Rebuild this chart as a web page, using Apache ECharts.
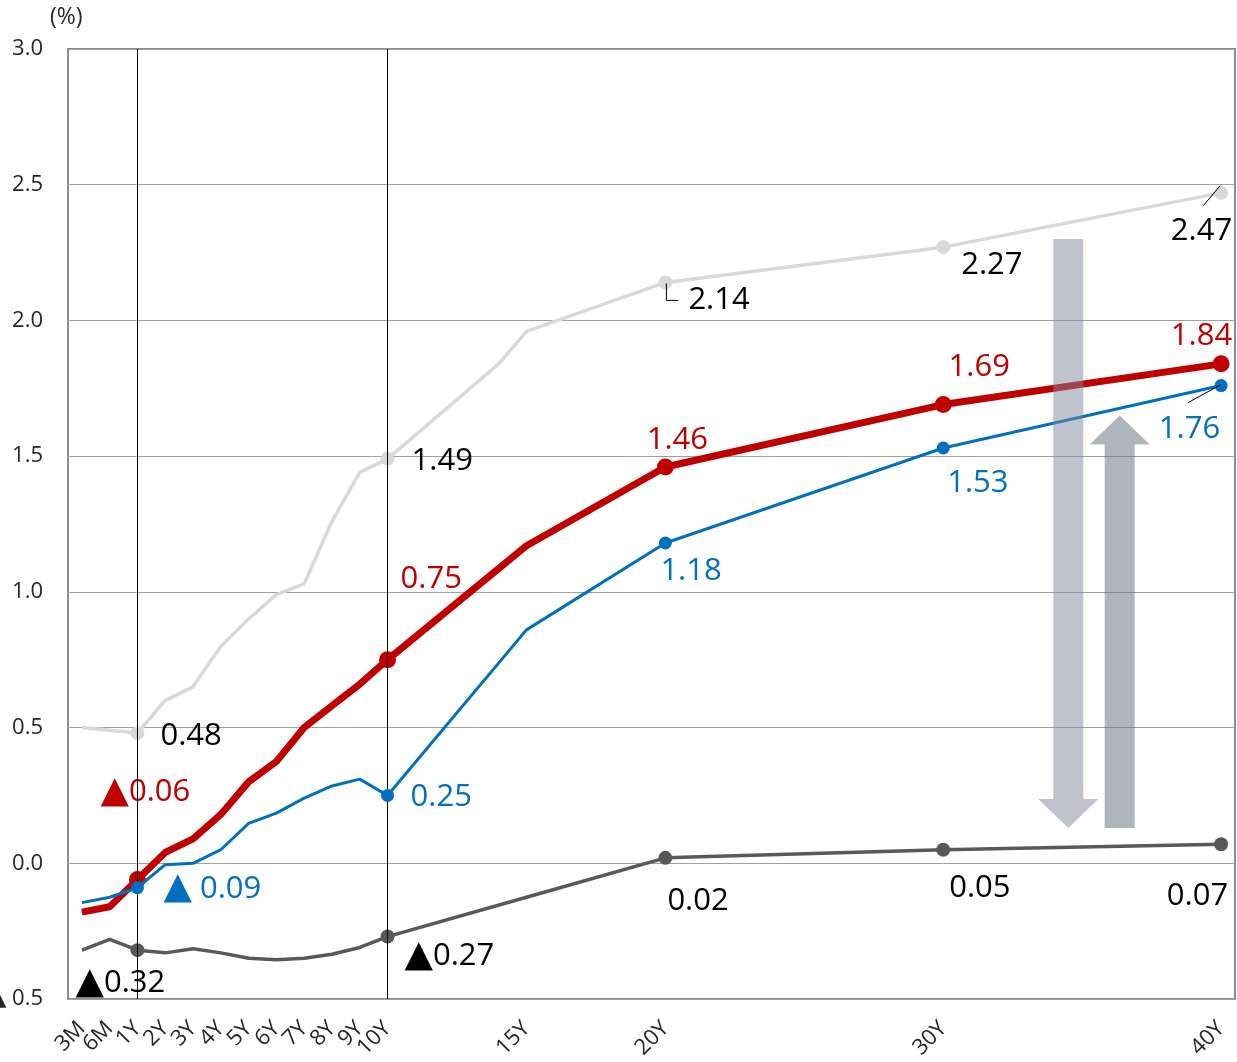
<!DOCTYPE html>
<html>
<head>
<meta charset="utf-8">
<script src="https://cdn.jsdelivr.net/npm/echarts/dist/echarts.min.js"></script>
<style>
  html, body { margin: 0; padding: 0; background: #ffffff; }
  #chart { width: 1237px; height: 1062px; }
</style>
</head>
<body>
<div id="chart"></div>
<script>
// Maturities printed under the axis
const tickLabels = ['3M', '6M', '1Y', '2Y', '3Y', '4Y', '5Y', '6Y', '7Y', '8Y', '9Y', '10Y', '15Y', '20Y', '30Y', '40Y'];

// Maturities observed for each curve
const tenors = ['3M', '6M', '1Y', '2Y', '3Y', '4Y', '5Y', '6Y', '7Y', '8Y', '9Y', '10Y', '15Y', '20Y', '30Y', '40Y'];
const peakTenors = ['3M', '6M', '1Y', '2Y', '3Y', '4Y', '5Y', '6Y', '7Y', '8Y', '9Y', '10Y', '14Y', '15Y', '20Y', '30Y', '40Y'];

// Yields (%)
const peakYields   = [0.50, 0.49, 0.48, 0.60, 0.65, 0.80, 0.90, 0.99, 1.03, 1.26, 1.44, 1.49, 1.84, 1.96, 2.14, 2.27, 2.47];
const latestYields = [-0.18, -0.16, -0.06, 0.04, 0.09, 0.18, 0.30, 0.375, 0.50, 0.58, 0.66, 0.75, 1.17, 1.46, 1.69, 1.84];
const midYields    = [-0.145, -0.125, -0.09, -0.005, 0.00, 0.05, 0.147, 0.185, 0.24, 0.285, 0.31, 0.25, 0.86, 1.18, 1.53, 1.76];
const lowYields    = [-0.32, -0.28, -0.32, -0.33, -0.315, -0.33, -0.35, -0.355, -0.35, -0.335, -0.31, -0.27, -0.125, 0.02, 0.05, 0.07];

// Y axis ticks
const yMin = -0.5, yMax = 3.0, yStep = 0.5;

// One category slot per maturity: 3M, 6M, 1Y ... 40Y
const categories = ['3M', '6M'];
for (let y = 1; y <= 40; y++) categories.push(y + 'Y');

const FONT = "'Open Sans', 'DejaVu Sans', sans-serif";

// Data label placement: [align, dx, dy] relative to the marker centre
const labelPlacement = {
  peak:   { '1Y': ['left', 23, 3],  '10Y': ['left', 24, 2],  '20Y': ['left', 23, 18],   '30Y': ['left', 18, 18],   '40Y': ['right', 11, 38] },
  latest: { '1Y': ['left', -37, -87], '10Y': ['left', 13, -81], '20Y': ['center', 12, -27], '30Y': ['center', 36, -37], '40Y': ['right', 11, -28] },
  mid:    { '1Y': ['left', 26, 1],  '10Y': ['left', 23, 2],  '20Y': ['left', -5, 28],   '30Y': ['left', 4, 35],    '40Y': ['right', -1, 44] },
  low:    { '1Y': ['left', -62, 33], '10Y': ['left', 17, 20], '20Y': ['left', 2, 43],    '30Y': ['left', 6, 38],    '40Y': ['right', 7, 52] }
};

// Negative values carry a leading triangle instead of a minus sign
function fmtValue(v, gap) {
  return v < 0 ? '{t|▲}' + gap + Math.abs(v).toFixed(2) : v.toFixed(2);
}

function buildSeries(opt) {
  const data = categories.map(function (c) {
    const i = opt.tenors.indexOf(c);
    if (i < 0) return '-';
    const v = opt.values[i];
    const p = opt.place[c];
    if (!p) return { value: v, symbol: 'none' };
    return { value: v, label: { show: true, align: p[0], offset: [p[1], p[2]] } };
  });
  return {
    type: 'line',
    name: opt.name,
    data: data,
    connectNulls: true,
    showAllSymbol: true,
    symbol: 'circle',
    symbolSize: opt.symbolSize,
    lineStyle: { color: opt.color, width: opt.width },
    itemStyle: { color: opt.color },
    label: {
      show: false,
      position: 'inside',
      verticalAlign: 'middle',
      color: opt.labelColor,
      fontSize: 31,
      fontFamily: FONT,
      rich: { t: { fontSize: 37, fontFamily: "'DejaVu Sans', sans-serif", color: opt.labelColor } },
      formatter: function (p) { return fmtValue(p.value, opt.gap); }
    },
    emphasis: { disabled: true },
    silent: true,
    z: opt.z,
    markLine: opt.markLine
  };
}

const chart = echarts.init(document.getElementById('chart'), null, { renderer: 'canvas' });

const option = {
  animation: false,
  backgroundColor: '#ffffff',
  title: {
    text: '(%)',
    left: 50,
    top: 6,
    padding: 0,
    textStyle: { fontSize: 23, fontWeight: 'normal', fontFamily: FONT, color: '#262626' }
  },
  grid: {
    left: 68, right: 2, top: 49, bottom: 63,
    containLabel: false,
    outerBoundsMode: 'none',
    show: true, borderColor: '#8c8c8c', borderWidth: 2, backgroundColor: 'transparent'
  },
  xAxis: {
    type: 'category',
    data: categories,
    boundaryGap: true,
    axisLine: { show: false },
    axisTick: { show: false },
    splitLine: { show: false },
    axisLabel: {
      interval: 0,
      rotate: 45,
      margin: 26,
      fontSize: 22,
      fontFamily: FONT,
      color: '#262626',
      formatter: function (v) { return tickLabels.indexOf(v) >= 0 ? v : ''; }
    }
  },
  yAxis: {
    type: 'value',
    min: yMin,
    max: yMax,
    interval: yStep,
    axisLine: { show: false },
    axisTick: { show: false },
    splitLine: { show: true, lineStyle: { color: '#a0a0a0', width: 1 } },
    axisLabel: {
      margin: 25,
      fontSize: 22,
      fontFamily: FONT,
      color: '#262626',
      formatter: function (v) { return v < 0 ? '▲ ' + Math.abs(v).toFixed(1) : v.toFixed(1); }
    }
  },
  series: [
    buildSeries({ name: 'peak', tenors: peakTenors, values: peakYields, color: '#d9d9d9', width: 3.5, symbolSize: 14, labelColor: '#000000', place: labelPlacement.peak, gap: '', z: 2 }),
    buildSeries({ name: 'low', tenors: tenors, values: lowYields, color: '#595959', width: 3.5, symbolSize: 14, labelColor: '#000000', place: labelPlacement.low, gap: '', z: 3 }),
    buildSeries({ name: 'latest', tenors: tenors, values: latestYields, color: '#c00000', width: 7, symbolSize: 17, labelColor: '#c00000', place: labelPlacement.latest, gap: '', z: 4 }),
    buildSeries({
      name: 'mid', tenors: tenors, values: midYields, color: '#0070c0', width: 3, symbolSize: 13, labelColor: '#0070c0', place: labelPlacement.mid, gap: ' ', z: 5,
      markLine: {
        silent: true,
        symbol: ['none', 'none'],
        label: { show: false },
        lineStyle: { color: '#000000', width: 1, type: 'solid' },
        emphasis: { disabled: true },
        data: [{ xAxis: '1Y' }, { xAxis: '10Y' }]
      }
    })
  ]
};

chart.setOption(option);

// Annotation overlays positioned through the chart's own coordinate system
function xAt(years) {
  // category index: 3M -> 0, 6M -> 1, nY -> n + 1
  const a = chart.convertToPixel({ xAxisIndex: 0 }, '3M');
  const b = chart.convertToPixel({ xAxisIndex: 0 }, '6M');
  return a + (years + 1) * (b - a);
}
function yAt(v) { return chart.convertToPixel({ yAxisIndex: 0 }, v); }
function pt(cat, v) { return chart.convertToPixel({ gridIndex: 0 }, [cat, v]); }

const shaftHalf = 15, headHalf = 30, headLen = 29;

function downArrow(years, top, bottom, fill) {
  const cx = xAt(years), t = yAt(top), b = yAt(bottom);
  return {
    type: 'polygon', z: 100, silent: true,
    shape: { points: [[cx - shaftHalf, t], [cx + shaftHalf, t], [cx + shaftHalf, b - headLen], [cx + headHalf, b - headLen], [cx, b], [cx - headHalf, b - headLen], [cx - shaftHalf, b - headLen]] },
    style: { fill: fill }
  };
}
function upArrow(years, top, bottom, fill) {
  const cx = xAt(years), t = yAt(top), b = yAt(bottom);
  return {
    type: 'polygon', z: 100, silent: true,
    shape: { points: [[cx, t], [cx + headHalf, t + headLen], [cx + shaftHalf, t + headLen], [cx + shaftHalf, b], [cx - shaftHalf, b], [cx - shaftHalf, t + headLen], [cx - headHalf, t + headLen]] },
    style: { fill: fill }
  };
}

const p214 = pt('20Y', peakYields[peakTenors.indexOf('20Y')]);
const p247 = pt('40Y', peakYields[peakTenors.indexOf('40Y')]);
const p176 = pt('40Y', midYields[tenors.indexOf('40Y')]);

const leader = function (points) {
  return { type: 'polyline', z: 101, silent: true, shape: { points: points }, style: { stroke: '#000000', lineWidth: 1, fill: null } };
};

chart.setOption({
  graphic: [
    downArrow(34.5, 2.30, 0.13, 'rgba(125,135,155,0.5)'),
    upArrow(36.35, 1.65, 0.13, 'rgba(110,120,135,0.55)'),
    leader([[p214[0] + 1, p214[1] + 1], [p214[0] + 1, p214[1] + 18], [p214[0] + 13, p214[1] + 18]]),
    leader([[p247[0] - 1, p247[1] - 7], [p247[0] - 18, p247[1] + 13]]),
    leader([[p176[0], p176[1] - 1], [p176[0] - 33, p176[1] + 17]])
  ]
});
</script>
</body>
</html>
